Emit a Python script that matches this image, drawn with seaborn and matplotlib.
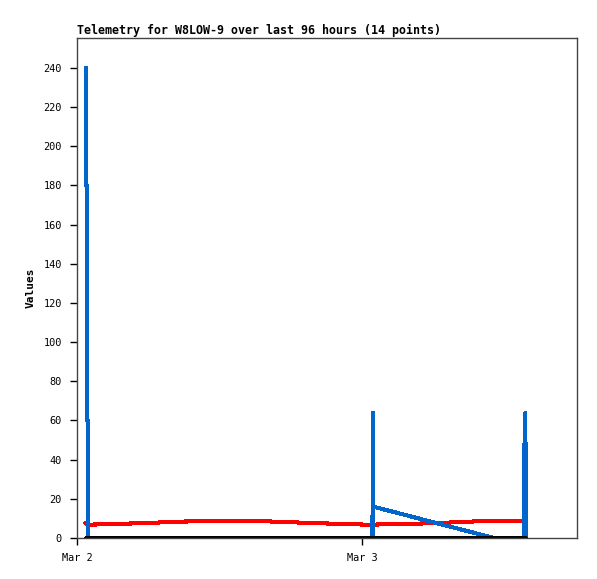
import pandas as pd
import numpy as np
import seaborn as sns
import matplotlib
matplotlib.use("Agg")
import matplotlib.pyplot as plt

# hours after Mar 2 00:00 for each series
start = pd.Timestamp("2024-03-02 00:00")

blue_hours = [0.76, 0.76, 0.84, 0.84, 0.92, 0.92, 24.88, 24.90, 24.95, 35.10, 37.60, 37.63, 37.68, 37.75, 37.80]
blue_values = [240, 180, 180, 60, 60, 0, 0, 64, 16, 0, 0, 16, 48, 64, 0]

red_hours = [0.70, 0.85, 3.0, 6.0, 9.0, 12.0, 16.0, 20.0, 24.5, 28.0, 31.0, 34.0, 37.5, 37.8]
red_values = [7.6, 6.8, 7.1, 7.7, 8.4, 8.8, 8.5, 7.6, 6.8, 7.2, 7.8, 8.6, 8.8, 7.8]

black_hours = [0.70, 37.80]
black_values = [0, 0]

title = "Telemetry for W8LOW-9 over last 96 hours (14 points)"
tick_days = ["2024-03-02", "2024-03-03"]
tick_labels = ["Mar 2", "Mar 3"]


def to_frame(hours, values):
    return pd.DataFrame({
        "time": start + pd.to_timedelta(hours, unit="h"),
        "value": values,
    })


sns.set_style("ticks")
plt.rcParams["font.family"] = ["DejaVu Sans Mono"]

fig = plt.figure(figsize=(5.97, 5.79), dpi=100)
ax = fig.add_axes([77 / 597, 1 - 538 / 579, 500 / 597, 500 / 579])

line_kw = dict(linewidth=2.2, estimator=None, sort=False, ax=ax, antialiased=False)
sns.lineplot(data=to_frame(red_hours, red_values), x="time", y="value", color="#ff0000", **line_kw)
sns.lineplot(data=to_frame(blue_hours, blue_values), x="time", y="value", color="#0066cc", **line_kw)
sns.lineplot(data=to_frame(black_hours, black_values), x="time", y="value", color="black", **line_kw)

ax.set_xlim(start, start + pd.Timedelta(hours=42.1))
ax.set_ylim(0, 255.3)
ax.set_yticks(np.arange(0, 241, 20))
ax.set_xticks(pd.to_datetime(tick_days))
ax.set_xticklabels(tick_labels)
ax.tick_params(labelsize=7.4, length=5, width=1, color="black", labelcolor="black", pad=6)

for s in ax.spines.values():
    s.set_color("#444444")
    s.set_linewidth(1)

ax.set_xlabel("")
ax.set_ylabel("Values", fontsize=8, fontweight="bold", labelpad=5.5, color="black")
ax.set_title(title, loc="left", fontsize=8.4, fontweight="bold", pad=3, color="black")

fig.savefig("out.png", dpi=100)
